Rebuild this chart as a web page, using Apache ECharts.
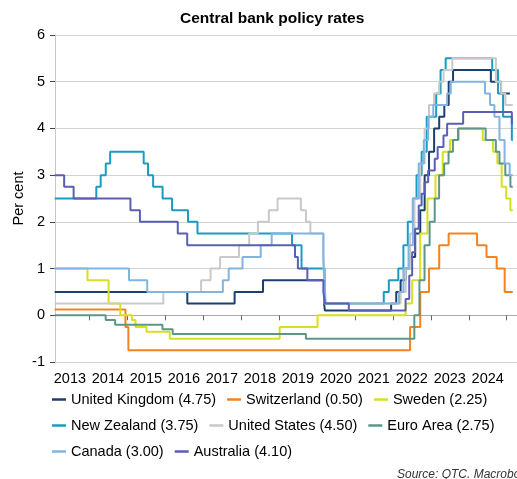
<!DOCTYPE html>
<html><head><meta charset="utf-8">
<script src="https://cdn.jsdelivr.net/npm/echarts@6/dist/echarts.min.js"></script>
<style>html,body{margin:0;padding:0;background:#fff}#c{width:517px;height:479px}</style>
</head><body><div id="c"></div>
<script>
const chartTitle = 'Central bank policy rates';
const yAxisName = 'Per cent';
const sourceText = 'Source: QTC. Macrobond';
const yMin = -1, yMax = 6;
const tickYears = [2014,2015,2016,2017,2018,2019,2020,2021,2022,2023,2024,2025];
const labelYears = [2013,2014,2015,2016,2017,2018,2019,2020,2021,2022,2023,2024];
const seriesNames = ['United Kingdom (4.75)','Switzerland (0.50)','Sweden (2.25)','New Zealand (3.75)','United States (4.50)','Euro Area (2.75)','Canada (3.00)','Australia (4.10)'];
const seriesColors = ['#1b3f6e','#f5821f','#d6e021','#1a9cc0','#c9c9c9','#5b9688','#82b4e2','#5a5fb4'];

const ukRates = [['2013-02-06',0.5],['2016-08-04',0.25],['2017-11-02',0.5],['2018-08-02',0.75],['2020-03-11',0.25],['2020-03-19',0.1],['2021-12-16',0.25],['2022-02-03',0.5],['2022-03-17',0.75],['2022-05-05',1.0],['2022-06-16',1.25],['2022-08-04',1.75],['2022-09-22',2.25],['2022-11-03',3.0],['2022-12-15',3.5],['2023-02-02',4.0],['2023-03-23',4.25],['2023-05-11',4.5],['2023-06-22',5.0],['2023-08-03',5.25],['2024-08-01',5.0],['2024-11-07',4.75],['2025-01-31',4.75]];
const swissRates = [['2013-02-06',0.125],['2014-12-18',-0.25],['2015-01-15',-0.75],['2022-06-16',-0.25],['2022-09-22',0.5],['2022-12-15',1.0],['2023-03-23',1.5],['2023-06-22',1.75],['2024-03-21',1.5],['2024-06-20',1.25],['2024-09-26',1.0],['2024-12-12',0.5],['2025-02-28',0.5]];
const swedenRates = [['2013-02-06',1.0],['2013-12-18',0.75],['2014-07-09',0.25],['2014-10-29',0.0],['2015-02-18',-0.1],['2015-03-25',-0.25],['2015-07-08',-0.35],['2016-02-17',-0.5],['2019-01-09',-0.25],['2020-01-08',0.0],['2022-05-04',0.25],['2022-07-06',0.75],['2022-09-21',1.75],['2022-11-30',2.5],['2023-02-15',3.0],['2023-04-26',3.5],['2023-07-05',3.75],['2023-09-27',4.0],['2024-05-15',3.75],['2024-08-21',3.5],['2024-10-02',3.25],['2024-11-13',2.75],['2024-12-27',2.5],['2025-02-05',2.25],['2025-02-28',2.25]];
const nzRates = [['2013-02-06',2.5],['2014-03-13',2.75],['2014-04-24',3.0],['2014-06-12',3.25],['2014-07-24',3.5],['2015-06-11',3.25],['2015-07-23',3.0],['2015-09-10',2.75],['2015-12-10',2.5],['2016-03-10',2.25],['2016-08-11',2.0],['2016-11-10',1.75],['2019-05-08',1.5],['2019-08-07',1.0],['2020-03-16',0.25],['2021-10-06',0.5],['2021-11-24',0.75],['2022-02-23',1.0],['2022-04-13',1.5],['2022-05-25',2.0],['2022-07-13',2.5],['2022-08-17',3.0],['2022-10-05',3.5],['2022-11-23',4.25],['2023-02-22',4.75],['2023-04-05',5.25],['2023-05-24',5.5],['2024-08-14',5.25],['2024-10-09',4.75],['2024-11-27',4.25],['2025-02-19',3.75],['2025-02-28',3.75]];
const usRates = [['2013-02-06',0.25],['2015-12-17',0.5],['2016-12-15',0.75],['2017-03-16',1.0],['2017-06-15',1.25],['2017-12-14',1.5],['2018-03-22',1.75],['2018-06-14',2.0],['2018-09-27',2.25],['2018-12-20',2.5],['2019-08-01',2.25],['2019-09-19',2.0],['2019-10-31',1.75],['2020-03-04',1.25],['2020-03-16',0.25],['2022-03-17',0.5],['2022-05-05',1.0],['2022-06-16',1.75],['2022-07-28',2.5],['2022-09-22',3.25],['2022-11-03',4.0],['2022-12-15',4.5],['2023-02-02',4.75],['2023-03-23',5.0],['2023-05-04',5.25],['2023-07-27',5.5],['2024-09-19',5.0],['2024-11-08',4.75],['2024-12-19',4.5],['2025-02-28',4.5]];
const euroRates = [['2013-02-06',0.0],['2014-06-11',-0.1],['2014-09-10',-0.2],['2015-12-09',-0.3],['2016-03-16',-0.4],['2019-09-18',-0.5],['2022-07-27',0.0],['2022-09-14',0.75],['2022-11-02',1.5],['2022-12-21',2.0],['2023-02-08',2.5],['2023-03-22',3.0],['2023-05-10',3.25],['2023-06-21',3.5],['2023-08-02',3.75],['2023-09-20',4.0],['2024-06-12',3.75],['2024-09-18',3.5],['2024-10-23',3.25],['2024-12-18',3.0],['2025-02-05',2.75],['2025-02-28',2.75]];
const canadaRates = [['2013-02-06',1.0],['2015-01-21',0.75],['2015-07-15',0.5],['2017-07-12',0.75],['2017-09-06',1.0],['2018-01-17',1.25],['2018-07-11',1.5],['2018-10-24',1.75],['2020-03-04',1.25],['2020-03-13',0.75],['2020-03-27',0.25],['2022-03-02',0.5],['2022-04-13',1.0],['2022-06-01',1.5],['2022-07-13',2.5],['2022-09-07',3.25],['2022-10-26',3.75],['2022-12-07',4.25],['2023-01-25',4.5],['2023-06-07',4.75],['2023-07-12',5.0],['2024-06-05',4.75],['2024-07-24',4.5],['2024-09-04',4.25],['2024-10-23',3.75],['2024-12-11',3.25],['2025-01-29',3.0],['2025-02-28',3.0]];
const australiaRates = [['2013-02-06',3.0],['2013-05-08',2.75],['2013-08-07',2.5],['2015-02-04',2.25],['2015-05-06',2.0],['2016-05-04',1.75],['2016-08-03',1.5],['2019-06-05',1.25],['2019-07-03',1.0],['2019-10-02',0.75],['2020-03-04',0.5],['2020-03-20',0.25],['2020-11-04',0.1],['2022-05-04',0.35],['2022-06-08',0.85],['2022-07-06',1.35],['2022-08-03',1.85],['2022-09-07',2.35],['2022-10-05',2.6],['2022-11-02',2.85],['2022-12-07',3.1],['2023-02-08',3.35],['2023-03-08',3.6],['2023-05-03',3.85],['2023-06-07',4.1],['2023-11-08',4.35],['2025-02-19',4.1],['2025-02-28',4.1]];

const allRates = [ukRates, swissRates, swedenRates, nzRates, usRates, euroRates, canadaRates, australiaRates];

function toYear(s){
  const p = s.split('-').map(Number);
  const a = Date.UTC(p[0],0,1), b = Date.UTC(p[0]+1,0,1);
  return p[0] + (Date.UTC(p[0],p[1]-1,p[2]) - a)/(b - a);
}
const xMin = toYear('2013-02-09');
const xMax = 2025.27;
const FONT = '"Liberation Sans", Arial, sans-serif';

const chart = echarts.init(document.getElementById('c'), null, {renderer:'canvas'});
chart.setOption({
  animation: false,
  backgroundColor: '#fff',
  title: {text: chartTitle, left: 180, top: 11, padding: 0,
    textStyle: {fontFamily: FONT, fontSize: 15.5, fontWeight: 'bold', color: '#000'}},
  grid: {left: 55, right: 0, top: 35, bottom: 117, containLabel: false},
  legend: {
    left: 52, top: 392, width: 460, orient: 'horizontal', padding: 0,
    itemWidth: 14, itemHeight: 2.5, itemGap: 11, icon: 'rect',
    textStyle: {fontFamily: FONT, fontSize: 14.5, color: '#000'},
    data: seriesNames
  },
  xAxis: {
    type: 'value', min: xMin, max: xMax,
    splitLine: {show: false},
    axisLine: {show: true, lineStyle: {color: '#aaaaaa', width: 1}},
    axisTick: {show: true, length: 5, lineStyle: {color: '#666'}, customValues: tickYears},
    axisLabel: {show: true, margin: 9, fontFamily: FONT, fontSize: 14.5, color: '#000',
      customValues: labelYears.map(y => y + 0.5),
      formatter: v => String(Math.floor(v))}
  },
  yAxis: {
    type: 'value', min: yMin, max: yMax, interval: 1,
    name: yAxisName, nameLocation: 'middle', nameGap: 29, nameRotate: 90, nameMoveOverlap: false,
    nameTextStyle: {fontFamily: FONT, fontSize: 14.5, color: '#000'},
    splitLine: {show: true, lineStyle: {color: '#d2d2d2', width: 1}},
    axisLine: {show: true, lineStyle: {color: '#c8c8c8', width: 1}},
    axisTick: {show: true, length: 5, lineStyle: {color: '#444'}},
    axisLabel: {margin: 10, fontFamily: FONT, fontSize: 14.5, color: '#000'}
  },
  graphic: [{type: 'text', left: 397, top: 469,
    style: {text: sourceText, font: 'italic 12px "Liberation Sans", Arial, sans-serif', fill: '#333'}}],
  series: allRates.map((rates, i) => ({
    name: seriesNames[i], type: 'line', step: 'end', showSymbol: false, symbol: 'none',
    color: seriesColors[i],
    lineStyle: {color: seriesColors[i], width: 2},
    itemStyle: {color: seriesColors[i]},
    data: rates.map(r => [toYear(r[0]), r[1]])
  }))
});
</script></body></html>
